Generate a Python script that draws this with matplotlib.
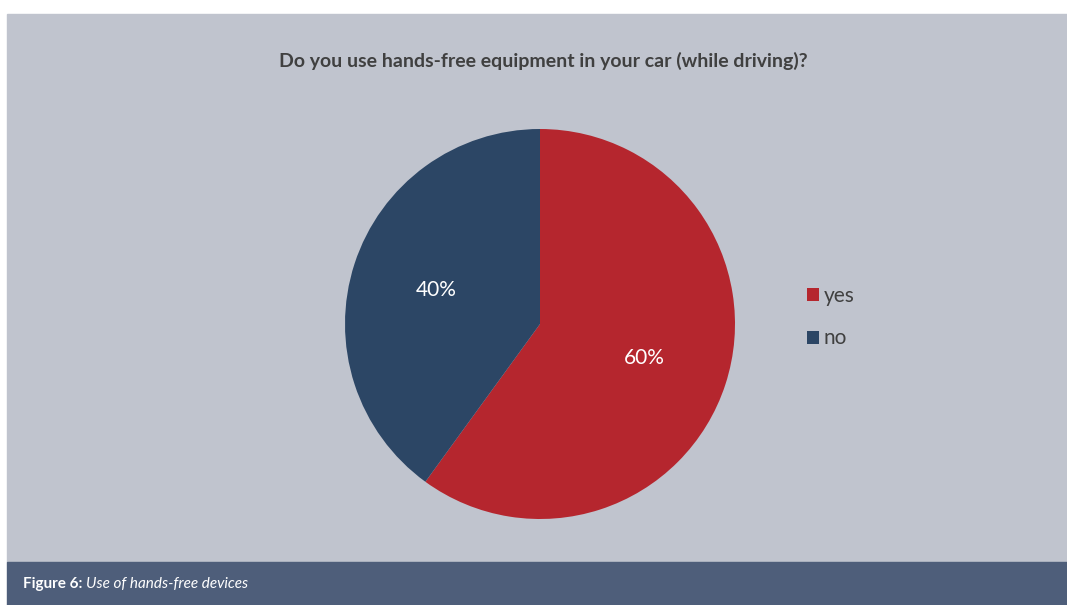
import matplotlib
matplotlib.use('Agg')
import matplotlib.pyplot as plt
from matplotlib.patches import Rectangle

plt.rcParams['font.family'] = ['Lato', 'DejaVu Sans']

# survey answers
labels = ['yes', 'no']
shares = [60, 40]
colors = ['#b5262e', '#2c4665']

title = 'Do you use hands-free equipment in your car (while driving)?'
fig_no = 'Figure 6:'
fig_caption = 'Use of hands-free devices'

W, H = 1067, 605
fig = plt.figure(figsize=(W / 100, H / 100), dpi=100)
fig.patch.set_facecolor('white')

# panel background and caption band
fig.patches.append(Rectangle((7 / W, 43 / H), 1 - 7 / W, 548 / H,
                             transform=fig.transFigure, color='#c0c4ce', zorder=-2))
fig.patches.append(Rectangle((7 / W, 0), 1 - 7 / W, 43 / H,
                             transform=fig.transFigure, color='#4e5e7a', zorder=-2))

ax = fig.add_axes([345 / W, 86 / H, 390 / W, 390 / H])
ax.set_zorder(1)
wedges, texts, autotexts = ax.pie(shares, colors=colors, startangle=90, counterclock=False,
                                  autopct='%d%%', pctdistance=0.56,
                                  textprops=dict(color='white', fontsize=15))
ax.set_xlim(-1, 1)
ax.set_ylim(-1, 1)

fig.text(543 / W, 1 - 61 / H, title, ha='center', va='center',
         fontsize=14, fontweight='bold', color='#404040')

fig.legend(wedges, labels, loc='center left', bbox_to_anchor=(788 / W, 1 - 317 / H),
           frameon=False, fontsize=15, handlelength=0.6, handleheight=0.6,
           handletextpad=0.2, labelspacing=1.1, labelcolor='#404040')

t1 = fig.text(23 / W, 21 / H, fig_no, ha='left', va='center',
              fontsize=11, fontweight='bold', color='white')
fig.canvas.draw()
bb = t1.get_window_extent()
fig.text((bb.x1 + 4) / W, 21 / H, fig_caption, ha='left', va='center',
         fontsize=11, style='italic', color='white')

fig.savefig('out.png', dpi=100)
